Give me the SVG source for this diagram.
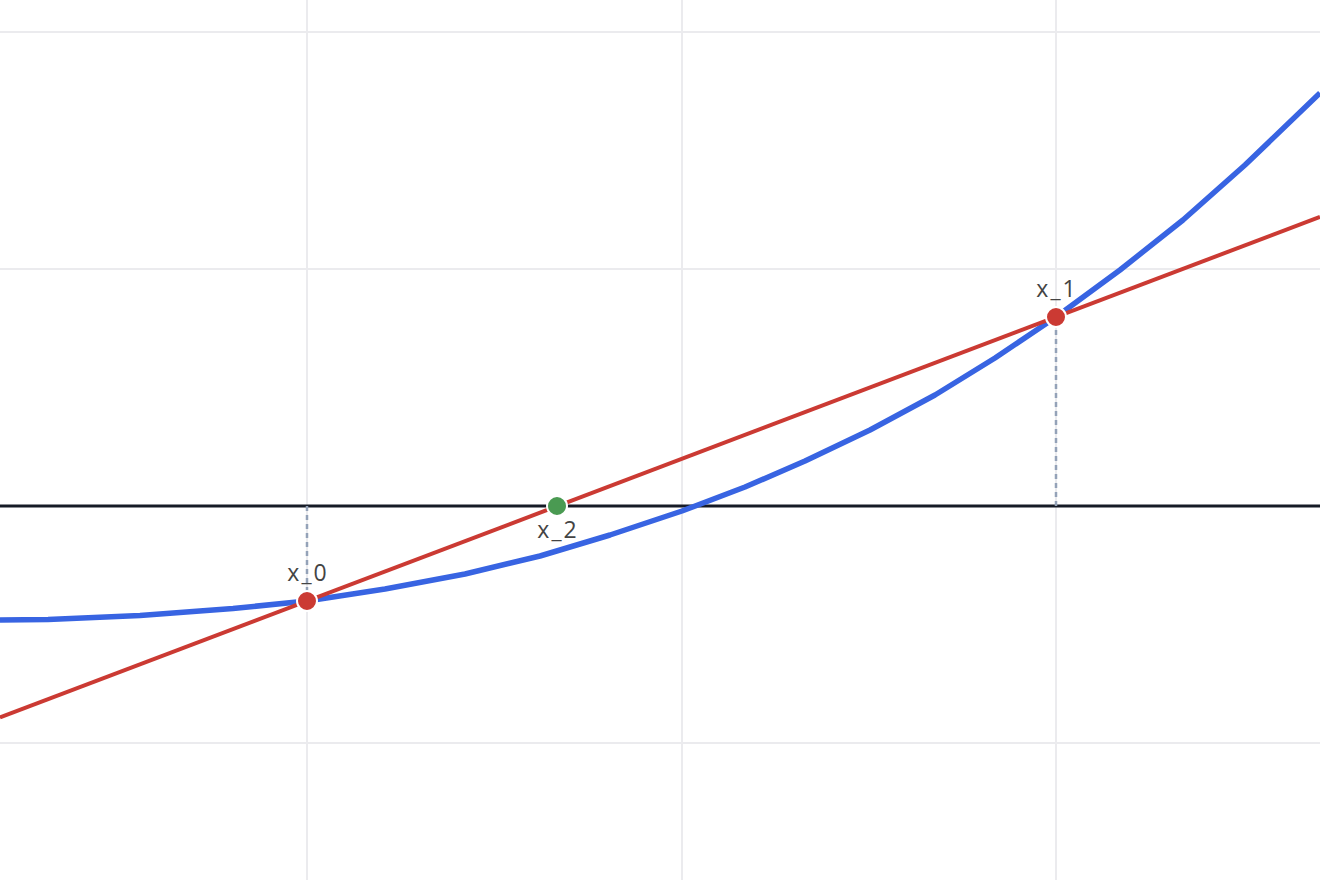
<svg xmlns="http://www.w3.org/2000/svg" width="1320" height="880" viewBox="0 0 1320 880">
<style>
.grid{stroke:#ebebee;stroke-width:2;fill:none}
.drop{stroke:#94a2b8;stroke-width:2.5;stroke-dasharray:5 4;fill:none}
.lbl{font-family:"Open Sans","Liberation Sans",sans-serif;font-size:23px;fill:#444;text-anchor:middle;letter-spacing:2px}
.pt{stroke:#fff;stroke-width:2}
</style>
<rect width="1320" height="880" fill="#fff"/>
<g id="grid">
<line class="grid" x1="307" y1="0" x2="307" y2="880"/>
<line class="grid" x1="682" y1="0" x2="682" y2="880"/>
<line class="grid" x1="1056" y1="0" x2="1056" y2="880"/>
<line class="grid" x1="0" y1="32" x2="1320" y2="32"/>
<line class="grid" x1="0" y1="269" x2="1320" y2="269"/>
<line class="grid" x1="0" y1="743" x2="1320" y2="743"/>
</g>
<g id="connectors">
<line id="axis" x1="0" y1="506" x2="1320" y2="506" stroke="#161b26" stroke-width="3"/>
<line class="drop" x1="307" y1="506" x2="307" y2="601"/>
<line class="drop" x1="1056" y1="506" x2="1056" y2="317"/>
<path id="curve" d="M0,620 L48,619.5 L140,615.5 L233,608.5 L307,601 L385,589 L465,574 L540,556 L610,535 L682,511 L745,487 L805,461 L870,430 L935,395 L995,358 L1056,317 L1120,270 L1183,220 L1245,165 L1320,93" fill="none" stroke="#3864e2" stroke-width="5.5" stroke-linejoin="round"/>
<line id="secant" x1="0" y1="717.4" x2="1320" y2="216.9" stroke="#cb3a33" stroke-width="4"/>
</g>
<g id="x0">
<circle class="pt" cx="307" cy="601" r="10" fill="#cb3a33"/>
<text class="lbl" x="308" y="581">x_0</text>
</g>
<g id="x1">
<circle class="pt" cx="1056" cy="317" r="10" fill="#cb3a33"/>
<text class="lbl" x="1057" y="297">x_1</text>
</g>
<g id="x2">
<circle class="pt" cx="557" cy="506" r="10" fill="#4a9a52"/>
<text class="lbl" x="558" y="538">x_2</text>
</g>
</svg>
